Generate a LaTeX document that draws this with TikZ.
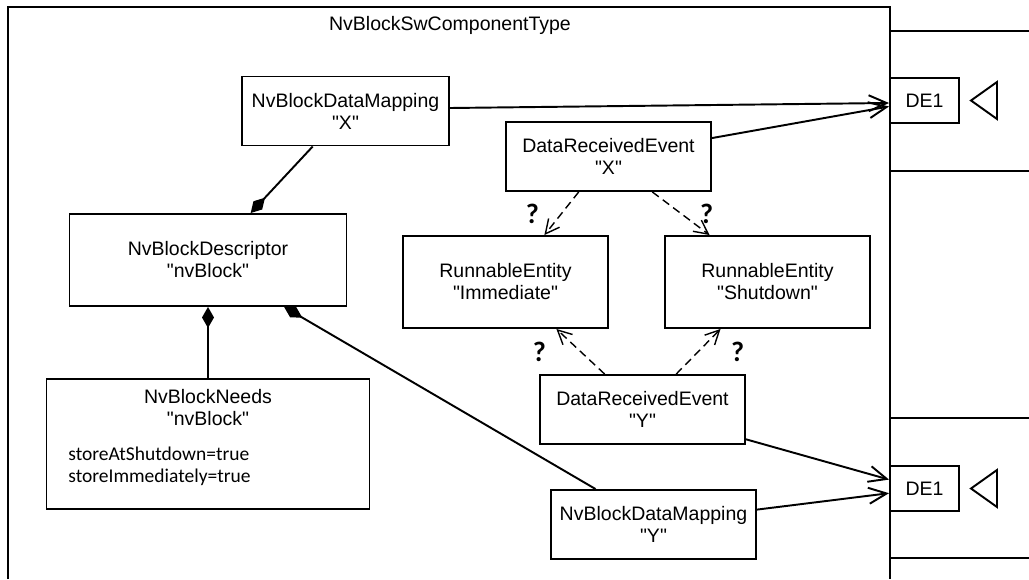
\documentclass[tikz,border=0pt]{standalone}
\usepackage{fontspec}
\setmainfont{Liberation Sans}[Ligatures=TeXOff]
\newfontfamily\calfont{Carlito}
\usepackage{tikz}
\usetikzlibrary{arrows.meta, positioning, calc}

\begin{document}
\begin{tikzpicture}[
    x=0.02cm, y=-0.02cm,
    every node/.style={font=\fontsize{11.1}{12.5}\selectfont},
    box/.style={draw, line width=1.1pt, minimum width=4.1cm, minimum height=1.38cm, align=center, inner sep=2pt},
    tallbox/.style={box, minimum height=1.84cm},
    portbox/.style={draw, line width=1.1pt, minimum width=1.38cm, minimum height=0.9cm},
    attr/.style={font=\calfont\fontsize{11.1}{12.5}\selectfont, align=left, inner sep=0pt},
    qmark/.style={font=\calfont\bfseries\fontsize{16}{16}\selectfont, inner sep=0pt},
    link/.style={line width=1.1pt},
    comp/.style={link, {Diamond[length=0.42cm,width=0.24cm]}-},
    arr/.style={link, -{Straight Barb[length=0.36cm,width=0.32cm]}},
    dasharr/.style={line width=0.8pt, dash pattern=on 0.16cm off 0.1cm, -{Straight Barb[length=0.28cm,width=0.28cm]}}
]
\useasboundingbox (0,0) rectangle (1029,579);

% component frame and ports
\draw[link] (8,579) -- (8,7) -- (890,7) -- (890,579);
\node (title) at (450,25) {NvBlockSwComponentType};
\draw[link] (1029,31) -- (890,31) (890,171) -- (1029,171);
\draw[link] (1029,418) -- (890,418) (890,558) -- (1029,558);

\node[portbox] (dex) at (924.5,100.5) {DE1};
\node[portbox] (dey) at (924.5,488.5) {DE1};
\draw[link] (997,82) -- (971,100.5) -- (997,119) -- cycle;
\draw[link] (997,470) -- (971,488.5) -- (997,507) -- cycle;

% elements
\node[box, minimum width=4.14cm] (mapx) at (345.5,111) {NvBlockDataMapping\\"X"};
\node[tallbox, minimum width=5.54cm] (desc) at (208,260) {NvBlockDescriptor\\"nvBlock"};
\node[draw, line width=1.1pt, minimum width=6.46cm, minimum height=2.6cm] (needs) at (208,444) {};
\node[align=center] (needstitle) at (208,408) {NvBlockNeeds\\"nvBlock"};
\node[attr, anchor=west] (needsattr) at (68,466) {storeAtShutdown=true\\storeImmediately=true};
\node[box] (drex) at (608.5,156.5) {DataReceivedEvent\\"X"};
\node[tallbox] (reimm) at (505.5,282) {RunnableEntity\\"Immediate"};
\node[tallbox] (reshut) at (767.5,282) {RunnableEntity\\"Shutdown"};
\node[box] (drey) at (642.5,409.5) {DataReceivedEvent\\"Y"};
\node[box] (mapy) at (653.5,524.5) {NvBlockDataMapping\\"Y"};

% data element references
\draw[arr] ([yshift=0.06cm]mapx.east) -- ([yshift=-0.05cm]dex.west);
\draw[arr] ($(drex.north east)!0.24!(drex.south east)$) -- ([yshift=-0.12cm]dex.west);
\draw[arr] ($(drey.north east)!0.92!(drey.south east)$) -- ($(dey.north west)!0.31!(dey.south west)$);
\draw[arr] ($(mapy.north east)!0.29!(mapy.south east)$) -- ($(dey.north west)!0.6!(dey.south west)$);

% aggregation
\draw[comp] ($(desc.north west)!0.653!(desc.north east)$) -- ($(mapx.south west)!0.343!(mapx.south east)$);
\draw[comp] (desc.south) -- (needs.north);
\draw[comp] ($(desc.south west)!0.773!(desc.south east)$) -- ($(mapy.north west)!0.22!(mapy.north east)$);

% triggering
\draw[dasharr] ($(drex.south west)!0.356!(drex.south east)$) -- node[qmark, left=0.44cm]{?} ($(reimm.north west)!0.688!(reimm.north east)$);
\draw[dasharr] ($(drex.south west)!0.712!(drex.south east)$) -- node[qmark, right=0.37cm]{?} ($(reshut.north west)!0.22!(reshut.north east)$);
\draw[dasharr] ($(drey.north west)!0.317!(drey.north east)$) -- node[qmark, left=0.68cm]{?} ($(reimm.south west)!0.746!(reimm.south east)$);
\draw[dasharr] ($(drey.north west)!0.663!(drey.north east)$) -- node[qmark, right=0.64cm]{?} ($(reshut.south west)!0.273!(reshut.south east)$);

\end{tikzpicture}
\end{document}
